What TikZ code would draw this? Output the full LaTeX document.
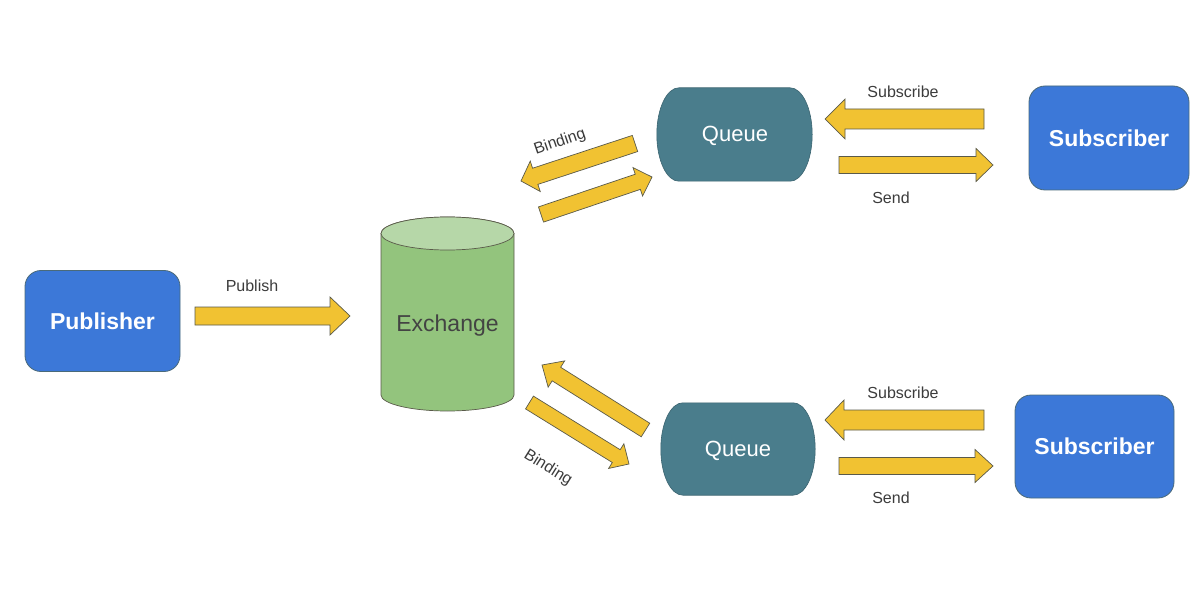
\documentclass[tikz,border=0pt]{standalone}
\usepackage{fontspec}
\setmainfont{Liberation Sans}
\usetikzlibrary{calc}
\definecolor{pubblue}{HTML}{3C78D8}
\definecolor{boxedge}{HTML}{4A6A7A}
\definecolor{queuefill}{HTML}{4A7D8C}
\definecolor{exgreen}{HTML}{93C47D}
\definecolor{extop}{HTML}{B6D7A8}
\definecolor{arrfill}{HTML}{F1C232}
\definecolor{arredge}{HTML}{5A5A4A}
\definecolor{labeltext}{HTML}{3C3C3C}
\definecolor{extext}{HTML}{434343}

% block arrow: #1 tail, #2 tip, #3 body half width, #4 head half width, #5 head length
\newcommand{\blockarr}[5]{%
  \coordinate (ba-h) at ($(#2)!#5pt!(#1)$);
  \filldraw[blockarrow] ($(#1)!#3pt!90:(#2)$) -- ($(ba-h)!#3pt!90:(#2)$) -- ($(ba-h)!#4pt!90:(#2)$) -- (#2) -- ($(ba-h)!#4pt!-90:(#2)$) -- ($(ba-h)!#3pt!-90:(#2)$) -- ($(#1)!#3pt!-90:(#2)$) -- cycle;}

\newcommand{\queueshape}[1]{%
  \filldraw[queueshp] ($(#1.north west)+(22,0)$) -- ($(#1.north east)+(-22,0)$)
    .. controls ($(#1.north east)+(-9.9,0)$) and ($(#1.east)+(0,-25.7)$) .. (#1.east)
    .. controls ($(#1.east)+(0,25.7)$) and ($(#1.south east)+(-9.9,0)$) .. ($(#1.south east)+(-22,0)$)
    -- ($(#1.south west)+(22,0)$)
    .. controls ($(#1.south west)+(9.9,0)$) and ($(#1.west)+(0,25.7)$) .. (#1.west)
    .. controls ($(#1.west)+(0,-25.7)$) and ($(#1.north west)+(9.9,0)$) .. ($(#1.north west)+(22,0)$)
    -- cycle;}

\begin{document}
\begin{tikzpicture}[x=1pt,y=-1pt,
  actor/.style={draw=boxedge, line width=0.8pt, fill=pubblue, rounded corners=16pt,
    text=white, font=\bfseries\fontsize{23}{27}\selectfont, inner sep=0pt},
  qbox/.style={minimum width=155pt, minimum height=93pt, inner sep=0pt},
  qtext/.style={text=white, font=\fontsize{22}{26}\selectfont, inner sep=0pt},
  queueshp/.style={fill=queuefill, draw=queuefill!80!black, line width=0.6pt},
  blockarrow/.style={fill=arrfill, draw=arredge, line width=0.7pt, line join=miter},
  lbl/.style={text=labeltext, font=\fontsize{16}{19}\selectfont, inner sep=0pt},
  cylbody/.style={fill=exgreen, draw=arredge, line width=0.7pt},
  cyltop/.style={fill=extop, draw=arredge, line width=0.7pt}]

\fill[white] (0,0) rectangle (1200,604);
\useasboundingbox (0,0) rectangle (1200,604);

% Publisher and subscribers
\node[actor, minimum width=155pt, minimum height=101pt] (pub) at (102.5,321) {Publisher};
\node[actor, minimum width=160pt, minimum height=104pt] (sub1) at (1109,138) {Subscriber};
\node[actor, minimum width=159pt, minimum height=103pt] (sub2) at (1094.5,446.5) {Subscriber};

% Exchange cylinder
\node[minimum width=133pt, minimum height=194pt, inner sep=0pt] (ex) at (447.5,314) {};
\filldraw[cylbody] (381,233.5) -- (381,395)
  .. controls (381,403.8) and (410.8,411) .. (447.5,411)
  .. controls (484.2,411) and (514,403.8) .. (514,395)
  -- (514,233.5)
  .. controls (514,224.4) and (484.2,217) .. (447.5,217)
  .. controls (410.8,217) and (381,224.4) .. (381,233.5) -- cycle;
\filldraw[cyltop] (447.5,233.5) ellipse [x radius=66.5pt, y radius=16.5pt];
\node[text=extext, font=\fontsize{23}{27}\selectfont, inner sep=0pt] (ext) at (447.5,325.5) {Exchange};

% Queues
\node[qbox] (q1) at (734.5,134.5) {};
\queueshape{q1}
\node[qtext] (q1t) at (735,136) {Queue};
\node[qbox, minimum width=154pt, minimum height=92pt] (q2) at (738,449) {};
\queueshape{q2}
\node[qtext] (q2t) at (738,450.5) {Queue};

% arrow end points
\coordinate (pubT) at (195,316);   \coordinate (pubH) at (350,316);
\coordinate (s1T) at (984,119);    \coordinate (s1H) at (825,119);
\coordinate (d1T) at (839,165);    \coordinate (d1H) at (993,165);
\coordinate (s2T) at (984,420);    \coordinate (s2H) at (825,420);
\coordinate (d2T) at (839,466);    \coordinate (d2H) at (993,466);
\coordinate (b1aT) at (635,143.5); \coordinate (b1aH) at (521,181);
\coordinate (b1bT) at (541,214.5); \coordinate (b1bH) at (652,177);
\coordinate (b2aT) at (645.5,430); \coordinate (b2aH) at (542,365);
\coordinate (b2bT) at (529.5,402.5); \coordinate (b2bH) at (629,464);

\blockarr{pubT}{pubH}{9}{19}{20}
\blockarr{s1T}{s1H}{10}{20}{20}
\blockarr{d1T}{d1H}{8.5}{16.5}{17}
\blockarr{s2T}{s2H}{10}{20}{19}
\blockarr{d2T}{d2H}{8.5}{16.5}{18}
\blockarr{b1aT}{b1aH}{8.5}{16}{15}
\blockarr{b1bT}{b1bH}{8}{15}{15}
\blockarr{b2aT}{b2aH}{8}{15.5}{17}
\blockarr{b2bT}{b2bH}{7.5}{14.5}{15}

% labels
\node[lbl] (lpub) at (252,286) {Publish};
\node[lbl] (ls1) at (903,92) {Subscribe};
\node[lbl] (ld1) at (891,198) {Send};
\node[lbl] (ls2) at (903,393) {Subscribe};
\node[lbl] (ld2) at (891,498) {Send};
\node[lbl, rotate=19] (lb1) at (560,142) {Binding};
\node[lbl, rotate=-32] (lb2) at (548,468) {Binding};
\end{tikzpicture}
\end{document}
